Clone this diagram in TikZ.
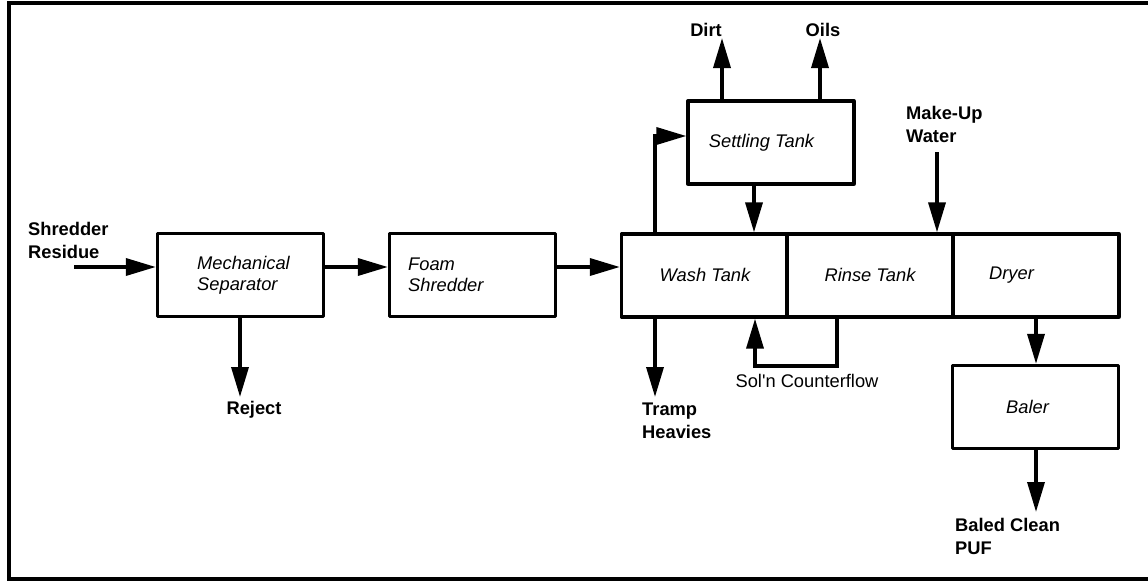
\documentclass[tikz,border=0pt]{standalone}
\usepackage{fontspec}
\setmainfont{Liberation Sans}
\usetikzlibrary{arrows.meta}
\begin{document}
\begin{tikzpicture}[x=1pt,y=-1pt,
  every node/.style={font=\fontsize{18}{22.5}\selectfont},
  box/.style={draw,line width=3.3pt,rectangle,minimum width=166pt,minimum height=83pt,inner sep=0pt,line join=round},
  intext/.style={font=\fontsize{18.3}{21}\selectfont\itshape,inner sep=0pt,align=left},
  bold/.style={font=\fontsize{18.3}{23}\selectfont\bfseries,inner sep=0pt,align=left},
  plain/.style={font=\fontsize{18.3}{22}\selectfont,inner sep=0pt},
  flow/.style={line width=3.5pt,-{Triangle[length=30pt,width=17pt]}},
  pipe/.style={line width=3.5pt}
]
\useasboundingbox (0,0) rectangle (1148,581);
\draw[line width=4pt] (1150,3) -- (9,3) -- (9,579) -- (1150,579);

% boxes
\node[box] (ms) at (240.5,275) {};
\node[box] (fs) at (472.5,275) {};
\node[box] (wash) at (704.5,275.5) {};
\node[box] (rinse) at (870,275.5) {};
\node[box] (dryer) at (1036,275.5) {};
\node[box] (settle) at (771,142.5) {};
\node[box] (baler) at (1035.5,407) {};

% box texts
\node[intext,anchor=west] (mst) at (197,275) {Mechanical\\Separator};
\node[intext,anchor=west] (fst) at (408,275) {Foam\\Shredder};
\node[intext] (washt) at (705,274.5) {Wash Tank};
\node[intext] (rinset) at (870,274.5) {Rinse Tank};
\node[intext] (dryert) at (1011.5,275) {Dryer};
\node[intext] (settlet) at (761.5,143) {Settling Tank};
\node[intext] (balert) at (1027.5,407) {Baler};

% outside labels
\node[bold,anchor=west] (res) at (28,240) {Shredder\\Residue};
\node[bold] (rej) at (254,410) {Reject};
\node[bold,anchor=west] (tramp) at (642,421) {Tramp\\Heavies};
\node[bold] (dirt) at (706,30) {Dirt};
\node[bold] (oils) at (823,30) {Oils};
\node[bold,anchor=west] (mkup) at (906,124) {Make-Up\\Water};
\node[bold,anchor=west] (baled) at (955,536) {Baled Clean\\PUF};
\node[plain] (sol) at (807,381) {Sol\textquotesingle n Counterflow};

% coordinates for free ends
\coordinate (resin) at (74,267);
\coordinate (rejend) at (240,397);
\coordinate (trampend) at (655,397);
\coordinate (dirtend) at (722,38);
\coordinate (oilsend) at (820,38);
\coordinate (mkstart) at (937,152);
\coordinate (baledend) at (1036,512);

% main line
\draw[flow] (resin) -- (resin -| ms.west);
\draw[flow] (ms.east |- resin) -- (fs.west |- resin);
\draw[flow] (fs.east |- resin) -- (wash.west |- resin);
\draw[flow] (ms.south -| rejend) -- (rejend);
\draw[flow] (wash.south -| trampend) -- (trampend);
\draw[flow] (wash.north -| trampend) -- (655,136) -- (settle.west |- 0,136);
\draw[flow] (settle.south -| 754,0) -- (wash.north -| 754,0);
\draw[flow] (settle.north -| dirtend) -- (dirtend);
\draw[flow] (settle.north -| oilsend) -- (oilsend);
\draw[flow] (mkstart) -- (mkstart |- rinse.north);
\draw[flow,line join=miter] (rinse.south -| 837,0) -- (837,366) -- (755,366) -- (wash.south -| 755,0);
\draw[flow] (dryer.south) -- (baler.north -| dryer.south);
\draw[flow] (baler.south -| baledend) -- (baledend);
\end{tikzpicture}
\end{document}
